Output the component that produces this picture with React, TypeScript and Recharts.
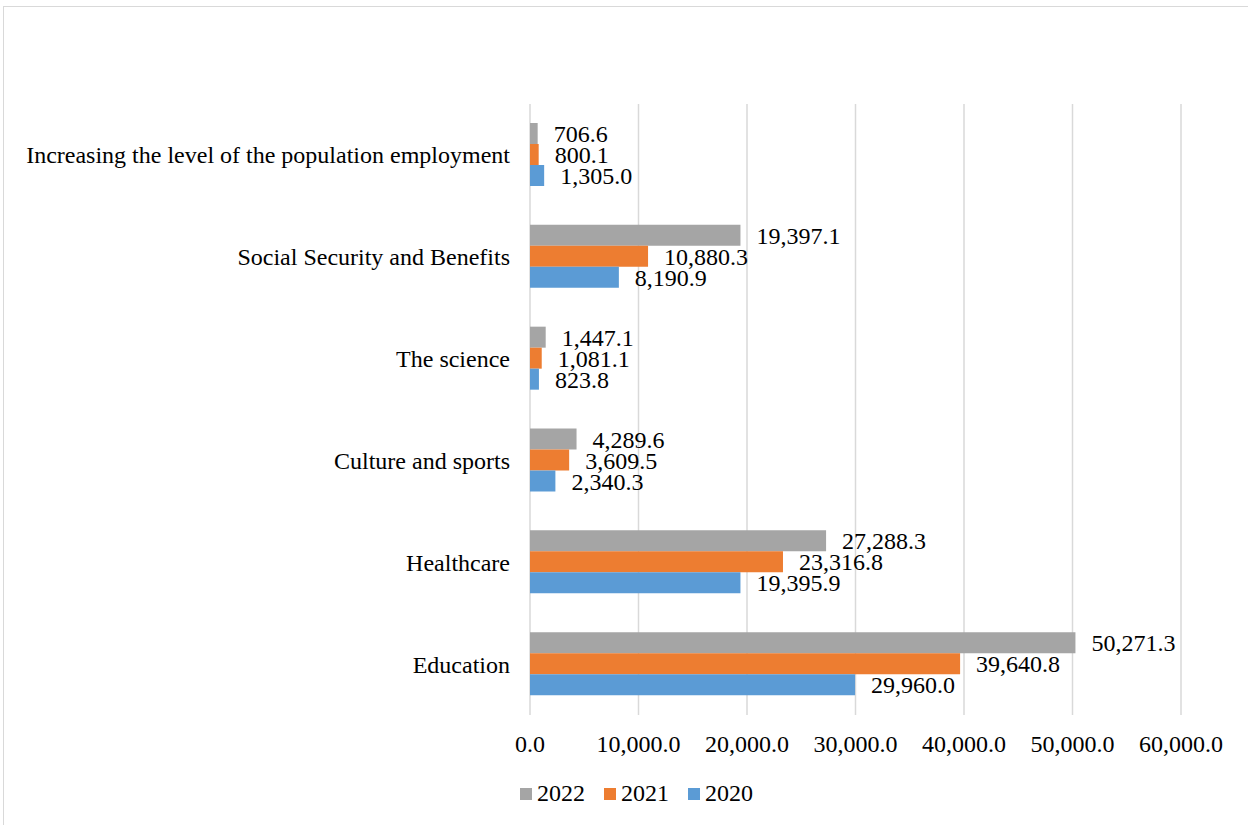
import React from "react";
import {
  BarChart,
  Bar,
  XAxis,
  YAxis,
  CartesianGrid,
  Legend,
  LabelList,
} from "recharts";

const categories = [
  "Increasing the level of the population employment",
  "Social Security and Benefits",
  "The science",
  "Culture and sports",
  "Healthcare",
  "Education",
];
const values2022 = [706.6, 19397.1, 1447.1, 4289.6, 27288.3, 50271.3];
const values2021 = [800.1, 10880.3, 1081.1, 3609.5, 23316.8, 39640.8];
const values2020 = [1305.0, 8190.9, 823.8, 2340.3, 19395.9, 29960.0];
const xTicks = [0, 10000, 20000, 30000, 40000, 50000, 60000];

const series = [
  { key: "y2022", name: "2022", color: "#A5A5A5" },
  { key: "y2021", name: "2021", color: "#ED7D31" },
  { key: "y2020", name: "2020", color: "#5B9BD5" },
];

const data = categories.map((name, i) => ({
  name,
  y2022: values2022[i],
  y2021: values2021[i],
  y2020: values2020[i],
}));

const FONT = "'Liberation Serif', 'Times New Roman', serif";
const fmt = (v: number) =>
  Number(v).toLocaleString("en-US", { minimumFractionDigits: 1, maximumFractionDigits: 1 });

const LegendContent = () => (
  <div style={{ display: "flex", alignItems: "center", fontFamily: FONT, fontSize: 24, color: "#000" }}>
    {series.map((s) => (
      <div key={s.key} style={{ display: "flex", alignItems: "center", marginRight: 19 }}>
        <span style={{ width: 12, height: 12, background: s.color, display: "inline-block", marginRight: 5 }} />
        <span>{s.name}</span>
      </div>
    ))}
  </div>
);

export default function App() {
  return (
    <div
      style={{
        position: "fixed",
        left: 0,
        top: 0,
        width: 1248,
        height: 825,
        overflow: "hidden",
        background: "#fff",
      }}
    >
      <div
        style={{
          position: "absolute",
          left: 3,
          top: 6,
          width: 1300,
          height: 900,
          border: "1.5px solid #D9D9D9",
        }}
      />
      <div style={{ position: "absolute", left: 0, top: 0 }}>
        <BarChart
          width={1248}
          height={825}
          data={data}
          layout="vertical"
          margin={{ top: 104, right: 67, left: 0, bottom: 35 }}
          barSize={21}
          barGap={0}
        >
          <CartesianGrid horizontal={false} stroke="#D9D9D9" strokeWidth={1.5} />
          <XAxis
            type="number"
            domain={[0, 60000]}
            ticks={xTicks}
            tickFormatter={fmt}
            axisLine={false}
            tickLine={false}
            tickSize={0}
            tickMargin={20}
            height={45}
            tick={{ fill: "#000", fontSize: 24, fontFamily: FONT }}
          />
          <YAxis
            type="category"
            dataKey="name"
            width={530}
            axisLine={false}
            tickLine={false}
            tickSize={0}
            tickMargin={20}
            tick={{ fill: "#000", fontSize: 24, fontFamily: FONT }}
          />
          <Legend
            verticalAlign="bottom"
            align="left"
            height={30}
            wrapperStyle={{ left: 520, bottom: 15 }}
            content={<LegendContent />}
          />
          {series.map((s) => (
            <Bar key={s.key} dataKey={s.key} name={s.name} fill={s.color} isAnimationActive={false}>
              <LabelList
                dataKey={s.key}
                position="right"
                offset={16}
                formatter={(v: any) => fmt(v)}
                style={{ fill: "#000", fontSize: 24, fontFamily: FONT }}
              />
            </Bar>
          ))}
        </BarChart>
      </div>
    </div>
  );
}
